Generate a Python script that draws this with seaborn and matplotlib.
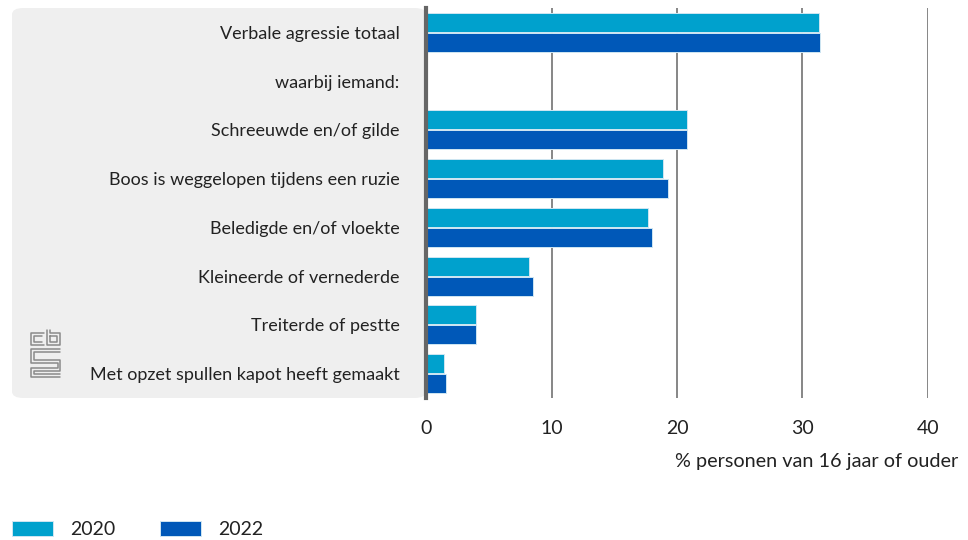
import pandas as pd
import numpy as np
import matplotlib
matplotlib.use('Agg')
import matplotlib.pyplot as plt
import seaborn as sns
from matplotlib.patches import FancyBboxPatch
from matplotlib.lines import Line2D

categories = ['Verbale agressie totaal', 'waarbij iemand:', 'Schreeuwde en/of gilde',
              'Boos is weggelopen tijdens een ruzie', 'Beledigde en/of vloekte',
              'Kleineerde of vernederde', 'Treiterde of pestte',
              'Met opzet spullen kapot heeft gemaakt']
values_2020 = [31.3, np.nan, 20.8, 18.9, 17.7, 8.2, 4.0, 1.4]
values_2022 = [31.4, np.nan, 20.8, 19.3, 18.0, 8.5, 4.0, 1.6]
years = ['2020', '2022']
colors = ['#00A1CD', '#0058B8']

df = pd.DataFrame({'Categorie': categories * 2,
                   'Jaar': [years[0]] * len(categories) + [years[1]] * len(categories),
                   'Waarde': values_2020 + values_2022})

sns.set_style('white')
plt.rcParams['font.family'] = ['Lato', 'DejaVu Sans']
W, H = 968, 540
FS = 14
fig = plt.figure(figsize=(W / 100, H / 100), dpi=100)

# grey label panel
panel = FancyBboxPatch((12 / W, 1 - 398 / H), (426 - 12) / W, (398 - 8) / H,
                       boxstyle='round,pad=0,rounding_size=0.012',
                       transform=fig.transFigure, facecolor='#EFEFEF', edgecolor='none', zorder=-5)
fig.patches.append(panel)

ax = fig.add_axes([426 / W, 1 - 398 / H, (928 - 426) / W, (398 - 8) / H])
ax.patch.set_alpha(0)
sns.barplot(data=df, y='Categorie', x='Waarde', hue='Jaar', order=categories,
            hue_order=years, palette=colors, saturation=1, orient='h', width=0.82, gap=0.04,
            edgecolor='#CFE6F2', linewidth=0.7, ax=ax, zorder=3)

ax.set_xlim(0, 40)
ax.set_xticks([0, 10, 20, 30, 40])
ax.grid(axis='x', color='#666666', linewidth=1.1, zorder=1)
ax.grid(axis='y', visible=False)
for s in ['top', 'right', 'bottom']:
    ax.spines[s].set_visible(False)
ax.spines['left'].set_color('#666666')
ax.spines['left'].set_linewidth(3)
ax.spines['left'].set_zorder(5)
ax.tick_params(axis='both', length=0, colors='#222222')
ax.tick_params(axis='x', pad=16, labelsize=FS)
ax.tick_params(axis='y', pad=19, labelsize=13)
ax.set_xlabel('')
ax.set_ylabel('')

fig.text(958 / W, 1 - 461 / H, '% personen van 16 jaar of ouder', ha='right', va='center',
         fontsize=14.3, color='#222222')

handles, labels = ax.get_legend_handles_labels()
ax.get_legend().remove()
fig.legend(handles, labels, loc='lower left', bbox_to_anchor=(12 / W, 2 / H), ncol=2,
           frameon=False, fontsize=FS, handlelength=2.1, handleheight=0.83,
           handletextpad=0.9, columnspacing=2.3, labelcolor='#222222',
           borderpad=0, borderaxespad=0)

# cbs logo
def px(xs, ys):
    return [x / W for x in xs], [1 - y / H for y in ys]

logo = [
    ([44, 31, 31, 44], [333, 333, 345, 345]),
    ([42, 34, 34, 42], [336, 336, 342, 342]),
    ([47, 47, 60, 60, 50, 50], [330, 345, 345, 333, 333, 330]),
    ([50, 50, 57, 57, 50], [336, 342, 342, 336, 336]),
    ([60, 31, 31, 58, 58, 31, 31, 60], [349, 349, 363, 363, 368, 368, 377, 377]),
    ([60, 34, 34, 60, 60, 34, 34, 60], [352, 352, 360, 360, 371, 371, 374, 374]),
]
for xs, ys in logo:
    fx, fy = px(xs, ys)
    fig.add_artist(Line2D(fx, fy, color='#8A8A8A', linewidth=1.1))

fig.savefig('out.png', dpi=100)
